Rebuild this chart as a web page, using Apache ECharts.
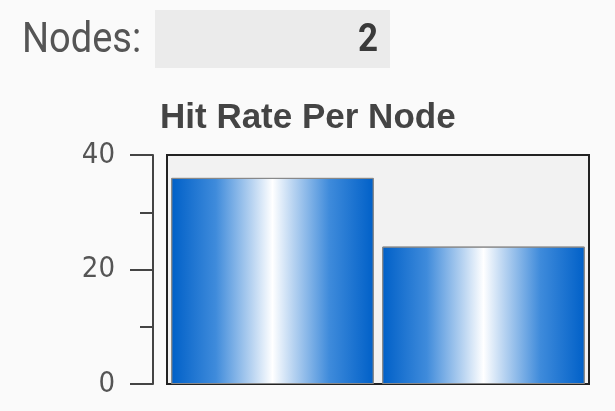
<!DOCTYPE html>
<html>
<head>
<meta charset="utf-8">
<script src="https://cdn.jsdelivr.net/npm/echarts@6/dist/echarts.min.js"></script>
<style>
  html, body { margin: 0; padding: 0; background: #fafafa; }
  #main { width: 615px; height: 411px; }
</style>
</head>
<body>
<div id="main"></div>
<script>
// chart values
var nodeNames = ['Node 1', 'Node 2'];
var hitRates = [36, 24];
var nodeCount = '2';

var chart = echarts.init(document.getElementById('main'));

// blue -> white -> blue shading across each bar
var barFill = new echarts.graphic.LinearGradient(0, 0, 1, 0, [
    {offset: 0, color: '#0060c8'},
    {offset: 0.22, color: '#3f8bdb'},
    {offset: 0.4, color: '#b9d4f1'},
    {offset: 0.5, color: '#ffffff'},
    {offset: 0.6, color: '#b9d4f1'},
    {offset: 0.78, color: '#3f8bdb'},
    {offset: 1, color: '#0060c8'}
]);

var option = {
    backgroundColor: '#fafafa',
    title: {
        text: 'Hit Rate Per Node',
        left: 155,
        top: 96,
        textStyle: {
            fontFamily: 'Liberation Sans',
            fontSize: 35,
            fontWeight: 'bold',
            color: '#444'
        }
    },
    graphic: [
        {type: 'rect', shape: {x: 155, y: 10, width: 235, height: 58}, style: {fill: '#ebebeb'}},
        {type: 'text', x: 22, y: 41, scaleY: 1.12,
            style: {text: 'Nodes:', font: '38px Roboto', fill: '#555', verticalAlign: 'middle'}},
        {type: 'text', x: 378, y: 41, scaleY: 1.1,
            style: {text: nodeCount, font: 'bold 35px Roboto', fill: '#3a3a3a', align: 'right', verticalAlign: 'middle'}}
    ],
    grid: {
        left: 167, top: 155, right: 26, bottom: 27,
        show: true,
        backgroundColor: '#f2f2f2',
        borderColor: '#222',
        borderWidth: 2
    },
    xAxis: {
        type: 'category',
        data: nodeNames,
        show: false
    },
    yAxis: {
        type: 'value',
        min: 0, max: 40, interval: 20,
        offset: 14,
        axisLine: {show: true, lineStyle: {color: '#444', width: 2}},
        axisTick: {show: true, length: 23, lineStyle: {color: '#444', width: 2}},
        minorTick: {show: true, splitNumber: 2, length: 13, lineStyle: {color: '#444', width: 2}},
        splitLine: {show: false},
        axisLabel: {
            margin: 38,
            fontFamily: 'DejaVu Sans Condensed',
            fontSize: 29,
            color: '#555'
        }
    },
    series: [{
        type: 'bar',
        data: hitRates,
        barCategoryGap: '4%',
        itemStyle: {color: barFill, borderColor: '#888', borderWidth: 1}
    }]
};

chart.setOption(option);
</script>
</body>
</html>
